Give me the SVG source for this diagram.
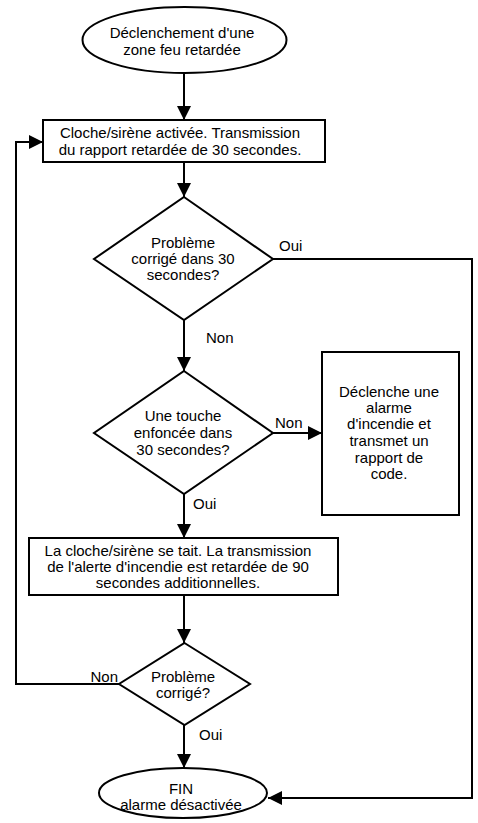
<svg xmlns="http://www.w3.org/2000/svg" width="478" height="823" viewBox="0 0 478 823">
<style>
.s{fill:#fff;stroke:#000;stroke-width:2}
.c{fill:none;stroke:#000;stroke-width:2}
text{font-family:"Liberation Sans",Arial,sans-serif;font-size:15px;fill:#000}
.m{text-anchor:middle}
</style>
<defs>
<marker id="ah" markerUnits="userSpaceOnUse" markerWidth="14" markerHeight="14" refX="14" refY="7" orient="auto">
<path d="M0,0 L14,7 L0,14 z" fill="#000"/>
</marker>
</defs>
<g id="connectors">
<path class="c" d="M184,73 V120" marker-end="url(#ah)"/>
<path class="c" d="M184,162 V197" marker-end="url(#ah)"/>
<path class="c" d="M184,320 V371" marker-end="url(#ah)"/>
<path class="c" d="M273,433 H322" marker-end="url(#ah)"/>
<path class="c" d="M184,494 V538" marker-end="url(#ah)"/>
<path class="c" d="M184,595 V643" marker-end="url(#ah)"/>
<path class="c" d="M184,725 V768" marker-end="url(#ah)"/>
<path class="c" d="M119,684 H16 V142 H43" marker-end="url(#ah)"/>
<path class="c" d="M273,259 H472 V798 H268" marker-end="url(#ah)"/>
<text x="279" y="251">Oui</text>
<text x="206" y="343">Non</text>
<text x="275" y="428">Non</text>
<text x="193" y="509">Oui</text>
<text x="118" y="682" text-anchor="end">Non</text>
<text x="199" y="740">Oui</text>
</g>
<g id="start">
<ellipse class="s" cx="184.5" cy="40" rx="102" ry="33"/>
<text class="m" x="182" y="38">Déclenchement d'une</text>
<text class="m" x="182" y="55">zone feu retardée</text>
</g>
<g id="step1">
<rect class="s" x="43" y="120" width="282" height="42"/>
<text class="m" x="180" y="138">Cloche/sirène activée. Transmission</text>
<text class="m" x="180" y="155">du rapport retardée de 30 secondes.</text>
</g>
<g id="decision1">
<polygon class="s" points="184,197 273,259 184,320 94,259"/>
<text class="m" x="183" y="248">Problème</text>
<text class="m" x="183" y="264">corrigé dans 30</text>
<text class="m" x="183" y="280">secondes?</text>
</g>
<g id="decision2">
<polygon class="s" points="184,371 273,433 184,494 94,433"/>
<text class="m" x="183" y="421">Une touche</text>
<text class="m" x="183" y="438">enfoncée dans</text>
<text class="m" x="183" y="455">30 secondes?</text>
</g>
<g id="alarm">
<rect class="s" x="322" y="352" width="137" height="163"/>
<text class="m" x="389" y="397">Déclenche une</text>
<text class="m" x="389" y="413">alarme</text>
<text class="m" x="389" y="429">d'incendie et</text>
<text class="m" x="389" y="446">transmet un</text>
<text class="m" x="389" y="463">rapport de</text>
<text class="m" x="389" y="479">code.</text>
</g>
<g id="step2">
<rect class="s" x="29" y="538" width="309" height="57"/>
<text class="m" x="178" y="556">La cloche/sirène se tait. La transmission</text>
<text class="m" x="178" y="572">de l'alerte d'incendie est retardée de 90</text>
<text class="m" x="178" y="588">secondes additionnelles.</text>
</g>
<g id="decision3">
<polygon class="s" points="184.5,643 250,684 184.5,725 119,684"/>
<text class="m" x="183" y="682">Problème</text>
<text class="m" x="183" y="698">corrigé?</text>
</g>
<g id="end">
<ellipse class="s" cx="183" cy="793" rx="84" ry="25"/>
<text class="m" x="181" y="794">FIN</text>
<text class="m" x="181" y="810">alarme désactivée</text>
</g>
</svg>
